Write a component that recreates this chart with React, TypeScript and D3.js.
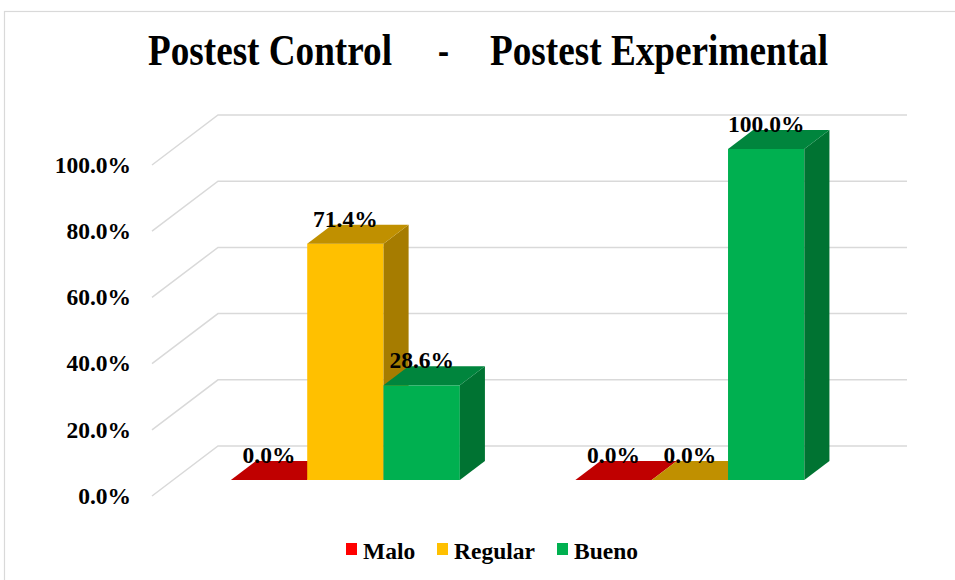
import { useRef, useEffect } from "react";
import * as d3 from "d3";

// Chart data
const GROUPS = ["Postest Control", "Postest Experimental"];
const SERIES = ["Malo", "Regular", "Bueno"];
const VALUES = [
  [0.0, 0.714, 0.286], // Postest Control
  [0.0, 0.0, 1.0], // Postest Experimental
];
const Y_TICKS = [0, 0.2, 0.4, 0.6, 0.8, 1.0];

// front / top / side shades per series
const COLORS = [
  { front: "#FF0000", top: "#C00000", side: "#A00000" },
  { front: "#FFC000", top: "#C09000", side: "#A67C00" },
  { front: "#00B050", top: "#00853D", side: "#007332" },
];

const FONT = "'Liberation Serif', 'Times New Roman', serif";

export default function App() {
  const svgRef = useRef<SVGSVGElement>(null);

  useEffect(() => {
    if (!svgRef.current) return;
    const svg = d3.select(svgRef.current);
    svg.selectAll("*").remove();

    const W = 955;
    const H = 580;
    svg.attr("width", W).attr("height", H);

    // outer chart border
    svg.append("rect").attr("x", 4.5).attr("y", 11.5).attr("width", 1000).attr("height", 620)
      .attr("fill", "white").attr("stroke", "#D9D9D9").attr("stroke-width", 1.2);

    // 3D projection: full depth offset
    const DX = 66;
    const DY = -50;
    const zFront = 0.32; // bar front plane
    const zBack = 0.7; // bar back plane

    const y = d3.scaleLinear().domain([0, 1]).range([496, 165]);
    const x0 = d3.scaleBand<string>().domain(GROUPS).range([152, 841]);
    const x1 = d3.scaleBand<string>().domain(SERIES).range([0, x0.bandwidth()])
      .paddingInner(0).paddingOuter(0.757);

    // gridlines: diagonal on the side wall + horizontal on back wall
    const grid = svg.append("g").attr("stroke", "#D9D9D9").attr("stroke-width", 1.5).attr("fill", "none");
    Y_TICKS.forEach((t) => {
      grid.append("path")
        .attr("d", `M${152},${y(t)}L${152 + DX},${y(t) + DY}L${841 + DX},${y(t) + DY}`);
    });

    // y-axis labels
    svg.append("g").selectAll("text").data(Y_TICKS).enter().append("text")
      .attr("x", 131).attr("y", (d) => y(d)).attr("dy", "0.33em")
      .attr("text-anchor", "end")
      .style("font-family", FONT).style("font-weight", "700").style("font-size", "23.5px").style("fill", "#000")
      .text((d) => d3.format(".1%")(d));

    // bars
    const bars = svg.append("g");
    const labels: { x: number; y: number; t: string }[] = [];
    GROUPS.forEach((g, gi) => {
      SERIES.forEach((s, si) => {
        const v = VALUES[gi][si];
        const c = COLORS[si];
        const w = x1.bandwidth();
        const fx = x0(g)! + x1(s)! + zFront * DX;
        const fy0 = y(0) + zFront * DY;
        const fy1 = y(v) + zFront * DY;
        const ddx = (zBack - zFront) * DX;
        const ddy = (zBack - zFront) * DY;
        if (v > 0) {
          // front face
          bars.append("rect").attr("x", fx).attr("y", fy1).attr("width", w).attr("height", fy0 - fy1)
            .attr("fill", c.front);
          // side face
          bars.append("path")
            .attr("d", `M${fx + w},${fy1}L${fx + w + ddx},${fy1 + ddy}L${fx + w + ddx},${fy0 + ddy}L${fx + w},${fy0}Z`)
            .attr("fill", c.side);
        }
        // top face
        bars.append("path")
          .attr("d", `M${fx},${fy1}L${fx + ddx},${fy1 + ddy}L${fx + w + ddx},${fy1 + ddy}L${fx + w},${fy1}Z`)
          .attr("fill", c.top);
        labels.push({ x: fx + w / 2, y: y(v) + zBack * DY + 2, t: d3.format(".1%")(v) });
      });
    });

    // data labels
    svg.append("g").selectAll("text").data(labels).enter().append("text")
      .attr("x", (d) => d.x).attr("y", (d) => d.y).attr("text-anchor", "middle")
      .style("font-family", FONT).style("font-weight", "700").style("font-size", "23.5px").style("fill", "#000")
      .text((d) => d.t);

    // title (condensed)
    const titleParts = [
      { t: "Postest Control", x: 148, len: 244 },
      { t: "-", x: 438, len: 11 },
      { t: "Postest Experimental", x: 490, len: 338 },
    ];
    svg.append("g").selectAll("text").data(titleParts).enter().append("text")
      .attr("x", (d) => d.x).attr("y", 65)
      .attr("textLength", (d) => d.len).attr("lengthAdjust", "spacingAndGlyphs")
      .style("font-family", FONT).style("font-weight", "700").style("font-size", "44px").style("fill", "#000")
      .text((d) => d.t);

    // legend
    const legendX = [346, 437, 557];
    const legend = svg.append("g");
    SERIES.forEach((s, i) => {
      legend.append("rect").attr("x", legendX[i]).attr("y", 543).attr("width", 11).attr("height", 12)
        .attr("fill", COLORS[i].front);
      legend.append("text").attr("x", legendX[i] + 17).attr("y", 559)
        .style("font-family", FONT).style("font-weight", "700").style("font-size", "23.5px").style("fill", "#000")
        .text(s);
    });

    return () => {
      svg.selectAll("*").remove();
    };
  }, []);

  return (
    <div style={{ position: "absolute", left: 0, top: 0, width: 955, height: 580, overflow: "hidden", background: "white" }}>
      <svg ref={svgRef} style={{ display: "block" }} />
    </div>
  );
}
